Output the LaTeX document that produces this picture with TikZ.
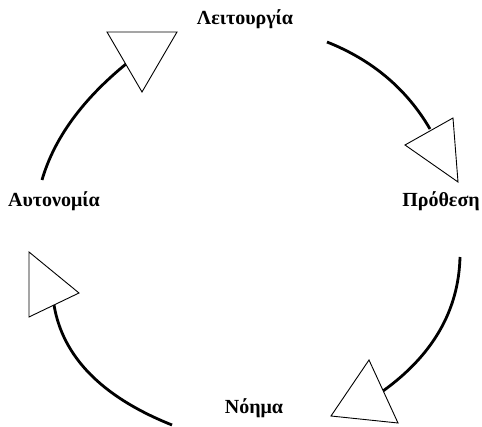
\documentclass[tikz,border=0pt]{standalone}
\usepackage{fontspec}
\setmainfont{Liberation Serif}
\begin{document}
\begin{tikzpicture}[x=1pt,y=-1pt,
  lbl/.style={font=\fontsize{20}{22}\selectfont\bfseries, inner sep=0pt},
  flow/.style={line width=2.8pt, black},
  head/.style={draw=black, fill=white, line width=0.9pt, line join=miter}]
\useasboundingbox (0,0) rectangle (482,427);

% stage labels
\node[lbl] (lei) at (245,19) {Λειτουργία};
\node[lbl] (pro) at (441,201) {Πρόθεση};
\node[lbl] (aut) at (54,201) {Αυτονομία};
\node[lbl] (noi) at (254,408) {Νόημα};

% arc end points
\coordinate (a1s) at (327,42);  \coordinate (a1e) at (430,129);
\coordinate (a2s) at (460,257); \coordinate (a2e) at (383,391);
\coordinate (a3s) at (172,425); \coordinate (a3e) at (54,305);
\coordinate (a4s) at (42,180);  \coordinate (a4e) at (126,64);

% curved flows
\draw[flow] (a1s) .. controls (372.3,60) and (406.7,89) .. (a1e);
\draw[flow] (a2s) .. controls (458.7,310.3) and (433,355) .. (a2e);
\draw[flow] (a3s) .. controls (102,397) and (62.7,357) .. (a3e);
\draw[flow] (a4s) .. controls (54,138.7) and (82,100) .. (a4e);

% open triangular heads
\draw[head] (405,145) -- (453,118) -- (458,182) -- cycle;
\draw[head] (369,360) -- (331,416) -- (398,423) -- cycle;
\draw[head] (29,252) -- (79,293) -- (29,317) -- cycle;
\draw[head] (107,32) -- (177,32) -- (142,92) -- cycle;
\end{tikzpicture}
\end{document}
